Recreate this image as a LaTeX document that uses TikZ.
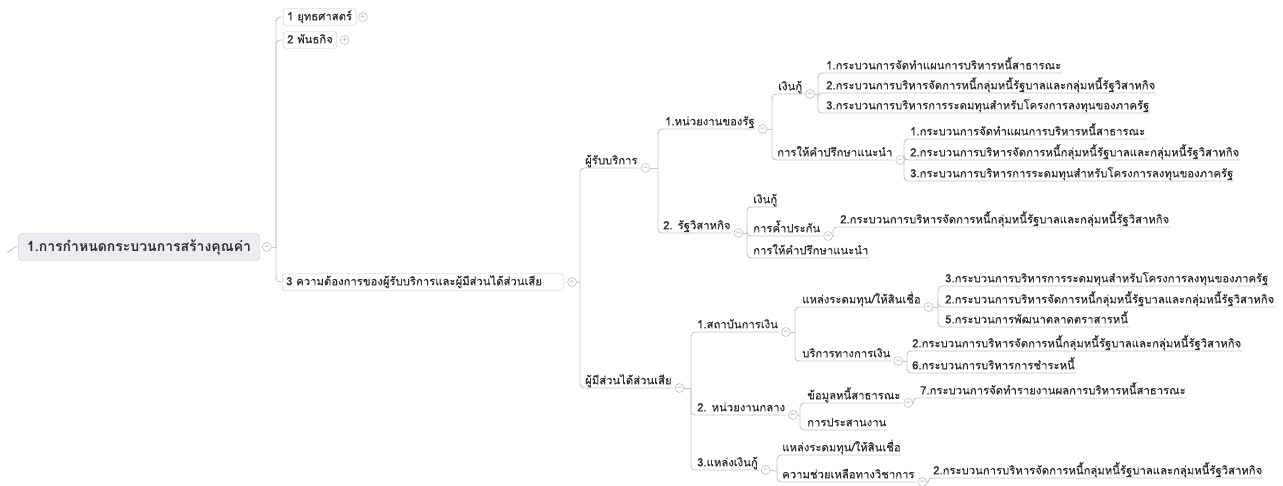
\documentclass[tikz,border=0pt]{standalone}
\usepackage{fontspec}
\newfontfamily\thaifont[Script=Thai,FakeBold=0.35]{Loma}
\newfontfamily\thairoot[Script=Thai]{Loma}
\usetikzlibrary{positioning}

\definecolor{linegray}{HTML}{C4C4C4}
\definecolor{inkgray}{HTML}{2E2E2E}
\definecolor{rootfill}{HTML}{ECECF2}
\definecolor{foldgray}{HTML}{A8A8A8}

\begin{document}
\begin{tikzpicture}[
  x=1pt, y=-1pt,
  topic/.style={anchor=south west, inner sep=1pt, text=inkgray,
                font=\thaifont\fontsize{11.3}{13}\selectfont,
                text height=9pt, text depth=2.5pt},
  boxtopic/.style={rectangle, rounded corners=2.5pt, draw=linegray, fill=white,
                   anchor=west, inner xsep=4pt, inner ysep=2.5pt, text=inkgray,
                   font=\thaifont\fontsize{11.3}{13}\selectfont,
                   text height=9pt, text depth=2.5pt},
  roottopic/.style={rectangle, rounded corners=4pt, draw=linegray, fill=rootfill,
                    anchor=west, inner xsep=9pt, minimum height=27pt, text=inkgray,
                    font=\thairoot\bfseries\fontsize{14}{16}\selectfont},
  fold/.style={circle, draw=foldgray, fill=white, minimum size=9pt, inner sep=0pt,
               text=foldgray!70!black, font=\sffamily\scriptsize},
  link/.style={draw=linegray, line width=0.9pt, rounded corners=4pt},
]
\useasboundingbox (0,0) rectangle (1283,486);

\node[roottopic] (root) at (18,247) {1.การกำหนดกระบวนการสร้างคุณค่า};
\node[fold, right=2pt of root] (root-f) {–};
\coordinate (tail) at (7,252);
\draw[link] (root.west) .. controls (13,245) and (11,253) .. (tail);

\node[boxtopic] (strat) at (283,17) {1 ยุทธศาสตร์};
\node[fold, right=2pt of strat] (strat-f) {+};
\node[boxtopic] (miss) at (283,40) {2 พันธกิจ};
\node[fold, right=3pt of miss] (miss-f) {+};
\node[boxtopic, text width=273pt] (need) at (282,282) {3 ความต้องการของผู้รับบริการและผู้มีส่วนได้ส่วนเสีย};
\node[fold, right=4pt of need] (need-f) {–};

\node[topic] (svc)   at (584,168) {ผู้รับบริการ};
\node[fold, right=2pt of svc.south east] (svc-f) {–};
\node[topic] (stake) at (584,388) {ผู้มีส่วนได้ส่วนเสีย};
\node[fold, right=2pt of stake.south east] (stake-f) {–};

\node[topic] (gov) at (664,129) {1.หน่วยงานของรัฐ};
\node[fold, right=2pt of gov.south east] (gov-f) {–};
\node[topic] (soe) at (662,233) {2. รัฐวิสาหกิจ};
\node[fold, right=2pt of soe.south east] (soe-f) {–};

\node[topic] (govloan) at (777,94) {เงินกู้};
\node[fold, right=2pt of govloan.south east] (govloan-f) {–};
\node[topic] (govadv) at (776,160) {การให้คำปรึกษาแนะนำ};
\node[fold, right=2pt of govadv.south east] (govadv-f) {–};

\node[topic] (gl1) at (825,73)  {1.กระบวนการจัดทำแผนการบริหารหนี้สาธารณะ};
\node[topic] (gl2) at (825,93)  {2.กระบวนการบริหารจัดการหนี้กลุ่มหนี้รัฐบาลและกลุ่มหนี้รัฐวิสาหกิจ};
\node[topic] (gl3) at (825,113) {3.กระบวนการบริหารการระดมทุนสำหรับโครงการลงทุนของภาครัฐ};

\node[topic] (ga1) at (909,139) {1.กระบวนการจัดทำแผนการบริหารหนี้สาธารณะ};
\node[topic] (ga2) at (909,160) {2.กระบวนการบริหารจัดการหนี้กลุ่มหนี้รัฐบาลและกลุ่มหนี้รัฐวิสาหกิจ};
\node[topic] (ga3) at (909,181) {3.กระบวนการบริหารการระดมทุนสำหรับโครงการลงทุนของภาครัฐ};

\node[topic] (soeloan) at (752,207) {เงินกู้};
\node[topic] (soegua)  at (752,236) {การค้ำประกัน};
\node[fold, right=2pt of soegua.south east] (soegua-f) {–};
\node[topic] (soeadv)  at (752,258) {การให้คำปรึกษาแนะนำ};
\node[topic] (sg1) at (839,227) {2.กระบวนการบริหารจัดการหนี้กลุ่มหนี้รัฐบาลและกลุ่มหนี้รัฐวิสาหกิจ};

\node[topic] (fin)  at (696,332) {1.สถาบันการเงิน};
\node[fold, right=2pt of fin.south east] (fin-f) {–};
\node[topic] (ctr)  at (696,415) {2. หน่วยงานกลาง};
\node[fold, right=2pt of ctr.south east] (ctr-f) {–};
\node[topic] (lend) at (696,470) {3.แหล่งเงินกู้};
\node[fold, right=2pt of lend.south east] (lend-f) {–};

\node[topic] (finsrc) at (801,307) {แหล่งระดมทุน/ให้สินเชื่อ};
\node[fold, right=2pt of finsrc.south east] (finsrc-f) {–};
\node[topic] (finsvc) at (801,361) {บริการทางการเงิน};
\node[fold, right=2pt of finsvc.south east] (finsvc-f) {–};

\node[topic] (fs1) at (944,286) {3.กระบวนการบริหารการระดมทุนสำหรับโครงการลงทุนของภาครัฐ};
\node[topic] (fs2) at (944,307) {2.กระบวนการบริหารจัดการหนี้กลุ่มหนี้รัฐบาลและกลุ่มหนี้รัฐวิสาหกิจ};
\node[topic] (fs3) at (944,327) {5.กระบวนการพัฒนาตลาดตราสารหนี้};
\node[topic] (fv1) at (911,351) {2.กระบวนการบริหารจัดการหนี้กลุ่มหนี้รัฐบาลและกลุ่มหนี้รัฐวิสาหกิจ};
\node[topic] (fv2) at (911,373) {6.กระบวนการบริหารการชำระหนี้};

\node[topic] (ctrdat) at (806,403) {ข้อมูลหนี้สาธารณะ};
\node[fold, right=2pt of ctrdat.south east] (ctrdat-f) {–};
\node[topic] (ctrcoo) at (806,430) {การประสานงาน};
\node[topic] (cd1) at (919,398) {7.กระบวนการจัดทำรายงานผลการบริหารหนี้สาธารณะ};

\node[topic] (lendsrc) at (781,455) {แหล่งระดมทุน/ให้สินเชื่อ};
\node[topic] (lendtec) at (781,482) {ความช่วยเหลือทางวิชาการ};
\node[fold, right=2pt of lendtec.south east] (lendtec-f) {–};
\node[topic] (lt1) at (932,478) {2.กระบวนการบริหารจัดการหนี้กลุ่มหนี้รัฐบาลและกลุ่มหนี้รัฐวิสาหกิจ};

\coordinate (j-root)    at (276,247);
\coordinate (j-need)    at (580,282);
\coordinate (j-svc)     at (658,168);
\coordinate (j-stake)   at (691,388);
\coordinate (j-gov)     at (772,129);
\coordinate (j-soe)     at (747,233);
\coordinate (j-govloan) at (818,94);
\coordinate (j-govadv)  at (904,160);
\coordinate (j-soegua)  at (833,236);
\coordinate (j-fin)     at (795,332);
\coordinate (j-ctr)     at (800,416);
\coordinate (j-lend)    at (777,471);
\coordinate (j-finsrc)  at (938,307);
\coordinate (j-finsvc)  at (907,361);
\coordinate (j-ctrdat)  at (913,403);
\coordinate (j-lendtec) at (928,482);

\draw[link] (root-f) -- (j-root);
\foreach \c in {strat,miss,need} \draw[link] (j-root) |- (\c.west);

\foreach \p/\kids in {need/{svc,stake}, svc/{gov,soe}, stake/{fin,ctr,lend},
    gov/{govloan,govadv}, soe/{soeloan,soegua,soeadv}, govloan/{gl1,gl2,gl3},
    govadv/{ga1,ga2,ga3}, soegua/{sg1}, fin/{finsrc,finsvc}, ctr/{ctrdat,ctrcoo},
    lend/{lendsrc,lendtec}, finsrc/{fs1,fs2,fs3}, finsvc/{fv1,fv2},
    ctrdat/{cd1}, lendtec/{lt1}} {
  \draw[link] (\p-f) -- (j-\p);
  \foreach \c in \kids \draw[link] (j-\p) |- (\c.south east);
}
\end{tikzpicture}
\end{document}
